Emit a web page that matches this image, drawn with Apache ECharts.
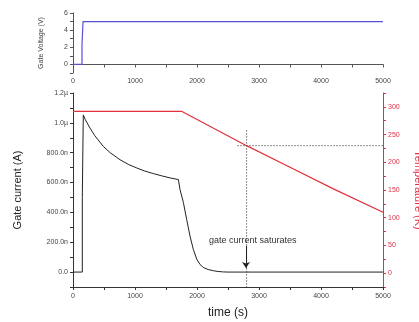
<!DOCTYPE html>
<html><head><meta charset="utf-8">
<script src="https://cdn.jsdelivr.net/npm/echarts@6/dist/echarts.min.js"></script>
<style>html,body{margin:0;padding:0;background:#fff}#c{width:419px;height:322px}</style>
</head><body><div id="c"></div>
<script>
// time (s), gate voltage (V)
const voltage = [[0,0],[145,0],[145,2.3],[162,2.3],[162,5],[5000,5]];
// time (s), gate current (nA)
const current = [[0,0],[150,0],[150,500],[160,500],[166,1053],[200,1020],[274,965],[350,915],[489,842],[600,800],[758,753],[900,720],[1027,698],[1150,678],[1295,660],[1430,645],[1565,631],[1700,620],[1726,553],[1780,467],[1833,353],[1887,242],[1940,153],[1995,87],[2050,50],[2102,31],[2180,17],[2263,9],[2340,4],[2425,1],[2500,0],[5000,0]];
// time (s), temperature (K)
const temperature = [[0,292],[1750,292],[2800,230],[3500,191],[4200,152],[5000,110]];
const guideV = [[2800,258],[2800,-25]];
const guideH = [[2650,230],[5000,230]];
const arrowFrom = [2790,175], arrowTo = [2790,28];
const noteAt = [2900,213];
const noteText = 'gate current saturates';

const fmtCur = v => {
  if (v < 0 || v % 200 !== 0) return '';
  if (v === 0) return '0.0';
  if (v >= 1000) return (v/1000).toFixed(1) + 'µ';
  return v.toFixed(1) + 'n';
};
const lbl = {fontSize:7, color:'#444', fontFamily:'Liberation Sans'};
const chart = echarts.init(document.getElementById('c'));
chart.setOption({
  animation:false,
  grid:[{left:73,right:36,top:13,height:60,outerBoundsMode:'none',containLabel:false},
        {left:73,right:36,top:93,height:194,outerBoundsMode:'none',containLabel:false}],
  xAxis:[
    {gridIndex:0,type:'value',min:0,max:5000,interval:500,splitLine:{show:false},
     axisLine:{lineStyle:{color:'#555',width:1}},axisTick:{length:3,lineStyle:{color:'#555'}},
     axisLabel:Object.assign({margin:5,formatter:v=>v%1000===0?String(v):''},lbl)},
    {gridIndex:1,type:'value',min:0,max:5000,interval:500,splitLine:{show:false},
     axisLine:{onZero:false,lineStyle:{color:'#333',width:1}},axisTick:{length:3,lineStyle:{color:'#333'}},
     axisLabel:Object.assign({margin:6,formatter:v=>v%1000===0?String(v):''},lbl),
     name:'time (s)',nameLocation:'middle',nameGap:20,
     nameTextStyle:{fontSize:12,color:'#222',fontFamily:'Liberation Sans'}}
  ],
  yAxis:[
    {gridIndex:0,type:'value',min:-1,max:6,interval:1,splitLine:{show:false},
     axisLine:{show:true,onZero:false,lineStyle:{color:'#555'}},axisTick:{show:true,length:3,lineStyle:{color:'#555'}},
     axisLabel:Object.assign({margin:5,formatter:v=>(v>=0&&v%2===0)?String(v):''},lbl),
     name:'Gate Voltage (V)',nameLocation:'middle',nameGap:28,
     nameTextStyle:{fontSize:7,color:'#444',fontFamily:'Liberation Sans'}},
    {gridIndex:1,type:'value',min:-100,max:1200,interval:100,splitLine:{show:false},
     axisLine:{show:true,onZero:false,lineStyle:{color:'#333'}},axisTick:{show:true,length:3,lineStyle:{color:'#333'}},
     axisLabel:Object.assign({margin:5,formatter:fmtCur},lbl),
     name:'Gate current (A)',nameLocation:'middle',nameGap:50,
     nameTextStyle:{fontSize:11,color:'#222',fontFamily:'Liberation Sans'}},
    {gridIndex:1,type:'value',position:'right',min:-25,max:325,interval:25,splitLine:{show:false},
     axisLine:{show:true,onZero:false,lineStyle:{color:'#e0304a'}},axisTick:{show:true,length:3,lineStyle:{color:'#e0304a'}},
     axisLabel:{margin:5,fontSize:7,color:'#e0304a',fontFamily:'Liberation Sans',formatter:v=>(v>=0&&v<=300&&v%50===0)?String(v):''},
     name:'Temperature (K)',nameLocation:'middle',nameGap:30,nameRotate:-90,
     nameTextStyle:{fontSize:11,color:'#e0304a',fontFamily:'Liberation Sans'}}
  ],
  series:[
    {type:'line',xAxisIndex:0,yAxisIndex:0,data:voltage,showSymbol:false,
     lineStyle:{color:'#5b4fd6',width:1.2}},
    {type:'line',xAxisIndex:1,yAxisIndex:2,data:guideV,showSymbol:false,
     lineStyle:{color:'#444',width:0.8,type:[1.5,1.5]}},
    {type:'line',xAxisIndex:1,yAxisIndex:2,data:guideH,showSymbol:false,
     lineStyle:{color:'#444',width:0.8,type:[1.5,1.5]}},
    {type:'line',xAxisIndex:1,yAxisIndex:2,data:temperature,showSymbol:false,
     lineStyle:{color:'#e03038',width:1.2}},
    {type:'line',xAxisIndex:1,yAxisIndex:1,data:current,showSymbol:false,
     lineStyle:{color:'#222',width:1},
     markLine:{silent:true,animation:false,symbolSize:6,label:{show:false},
       lineStyle:{color:'#222',width:1,type:'solid'},
       data:[[{coord:arrowFrom,symbol:'none'},{coord:arrowTo,symbol:'arrow'}]]},
     markPoint:{silent:true,symbol:'circle',symbolSize:0,
       label:{show:true,formatter:noteText,fontSize:9,color:'#333',fontFamily:'Liberation Sans'},
       data:[{coord:noteAt}]}}
  ]
});
</script></body></html>
